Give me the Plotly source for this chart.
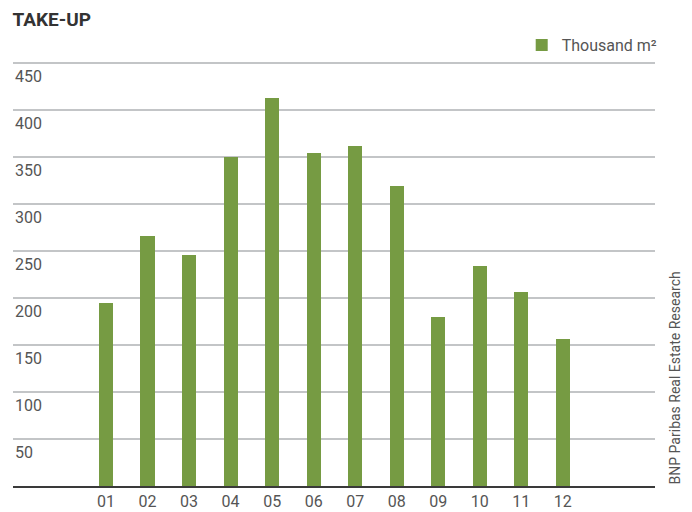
import plotly.graph_objects as go

# Monthly take-up, thousand m²
months = ["01", "02", "03", "04", "05", "06", "07", "08", "09", "10", "11", "12"]
take_up = [195, 266, 246, 350, 413, 355, 362, 319, 180, 234, 207, 157]
y_ticks = [50, 100, 150, 200, 250, 300, 350, 400, 450]

GREEN = "#769b43"
GRID = "#c3c5c7"
TEXT = "#555555"
FONT = "Roboto"

x_pos = list(range(1, len(months) + 1))

fig = go.Figure()
fig.add_trace(go.Bar(
    x=x_pos, y=take_up, name="Thousand m²",
    marker=dict(color=GREEN, line=dict(width=0)),
    width=0.34, showlegend=True,
))

# y labels sit just below their gridlines, flush left
for v in y_ticks:
    fig.add_annotation(
        x=0, xref="paper", xanchor="left",
        y=v, yref="y", yanchor="top", yshift=-2,
        text=str(v), showarrow=False,
        font=dict(family=FONT, size=16, color=TEXT),
    )

fig.add_annotation(
    x=1.031, xref="paper", xanchor="center",
    y=0, yref="paper", yanchor="bottom",
    text="BNP Paribas Real Estate Research", textangle=-90, showarrow=False,
    font=dict(family=FONT, size=14, color=TEXT),
)

fig.update_layout(
    width=692, height=512,
    margin=dict(l=13, r=37, t=62, b=26, autoexpand=False),
    paper_bgcolor="white", plot_bgcolor="white",
    title=dict(text="<b>TAKE-UP</b>", x=0.018, xanchor="left", y=0.962, yanchor="middle",
               font=dict(family=FONT, size=19, color="#333333")),
    font=dict(family=FONT, size=16, color=TEXT),
    legend=dict(orientation="h", x=1.012, xanchor="right", y=1.0, yanchor="bottom",
                font=dict(family=FONT, size=16, color=TEXT), bgcolor="rgba(0,0,0,0)"),
    bargap=0,
    xaxis=dict(
        range=[-1.24, 14.22], tickvals=x_pos, ticktext=months,
        showgrid=False, zeroline=False, automargin=False,
        showline=True, linecolor="#3a3a3a", linewidth=1.5,
        ticks="", tickfont=dict(family=FONT, size=16, color=TEXT),
    ),
    yaxis=dict(
        range=[0, 451.5], tickvals=y_ticks, showticklabels=False, automargin=False,
        showgrid=True, gridcolor=GRID, gridwidth=2, zeroline=False,
    ),
)

fig.write_html("out.html")
